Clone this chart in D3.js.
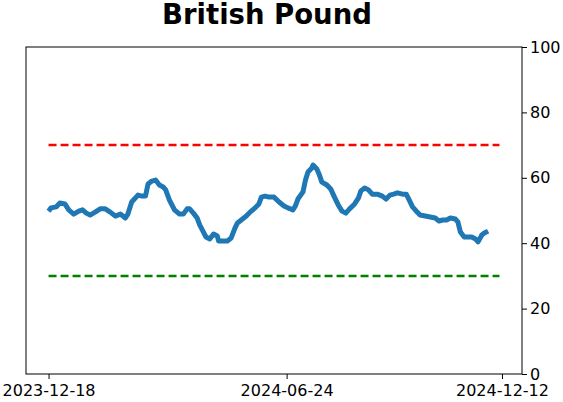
<!DOCTYPE html>
<html><head><meta charset="utf-8">
<script src="https://cdn.jsdelivr.net/npm/d3@7"></script>
<style>body{margin:0;background:#fff}svg{display:block}text{font-family:"DejaVu Sans",sans-serif}</style>
</head><body>
<svg id="c" width="563" height="402"></svg>
<script>
const title = "British Pound";
const dates = ["2023-12-18","2023-12-20","2023-12-24","2023-12-27","2023-12-31","2024-01-03","2024-01-07","2024-01-11","2024-01-14","2024-01-17","2024-01-20","2024-01-24","2024-01-28","2024-02-01","2024-02-05","2024-02-09","2024-02-13","2024-02-17","2024-02-19","2024-02-22","2024-02-27","2024-03-01","2024-03-04","2024-03-06","2024-03-09","2024-03-12","2024-03-15","2024-03-18","2024-03-20","2024-03-23","2024-03-27","2024-03-31","2024-04-03","2024-04-06","2024-04-08","2024-04-11","2024-04-14","2024-04-16","2024-04-19","2024-04-21","2024-04-24","2024-04-27","2024-04-30","2024-05-01","2024-05-05","2024-05-08","2024-05-11","2024-05-14","2024-05-16","2024-05-19","2024-05-23","2024-05-26","2024-05-30","2024-06-02","2024-06-04","2024-06-07","2024-06-10","2024-06-14","2024-06-18","2024-06-22","2024-06-25","2024-06-29","2024-07-01","2024-07-03","2024-07-07","2024-07-09","2024-07-11","2024-07-14","2024-07-15","2024-07-18","2024-07-20","2024-07-22","2024-07-26","2024-07-29","2024-08-01","2024-08-04","2024-08-07","2024-08-10","2024-08-13","2024-08-17","2024-08-20","2024-08-22","2024-08-25","2024-08-28","2024-08-31","2024-09-04","2024-09-08","2024-09-11","2024-09-14","2024-09-17","2024-09-20","2024-09-24","2024-09-27","2024-09-29","2024-10-02","2024-10-05","2024-10-08","2024-10-12","2024-10-16","2024-10-20","2024-10-23","2024-10-26","2024-10-29","2024-11-01","2024-11-05","2024-11-07","2024-11-09","2024-11-12","2024-11-15","2024-11-18","2024-11-21","2024-11-23","2024-11-26","2024-11-28","2024-12-01"];
const values = [49.8,50.8,51.1,52.3,52.0,50.2,48.9,49.8,50.2,49.2,48.6,49.5,50.5,50.5,49.5,48.3,48.9,47.7,48.9,52.6,54.7,54.4,54.4,58.1,59.0,59.3,57.8,57.2,56.3,53.2,50.2,48.9,48.9,50.5,50.5,49.2,47.7,45.6,43.4,41.9,41.3,42.8,42.2,40.7,40.7,40.7,41.6,44.6,46.2,47.1,48.3,49.5,50.8,52.0,54.1,54.4,54.1,54.1,52.6,51.4,50.8,50.2,51.4,53.5,55.7,59.3,61.8,63.0,63.9,62.7,60.9,58.7,57.8,56.6,54.1,51.7,49.8,49.2,50.5,52.0,53.8,56.0,56.9,56.3,55.0,55.0,54.4,53.5,54.7,55.0,55.4,55.0,55.0,53.5,51.1,49.8,48.6,48.3,48.0,47.7,46.8,47.1,47.1,47.7,47.4,46.5,43.4,41.9,41.9,41.9,41.3,40.4,42.5,43.1,43.7];
const refStart = "2023-12-18", refEnd = "2024-12-10";
const upperLevel = 70, lowerLevel = 30;
const xTickLabels = ["2023-12-18","2024-06-24","2024-12-12"];
const yTicks = [0,20,40,60,80,100];

const parse = d3.timeParse("%Y-%m-%d");
const fmt = d3.timeFormat("%Y-%m-%d");
const data = dates.map((d,i)=>({date:parse(d), v:values[i]}));
const m = {left:26, right:522, top:47, bottom:374};
const t0 = parse(refStart), t1 = parse(refEnd);
const span = t1 - t0;
const x = d3.scaleTime().domain([new Date(+t0 - span*0.05), new Date(+t1 + span*0.05)]).range([m.left, m.right]);
const y = d3.scaleLinear().domain([0,100]).range([m.bottom, m.top]);
const svg = d3.select("#c");

svg.append("text").attr("x", 267).attr("y", 24).attr("text-anchor","middle")
  .attr("font-size", 27.5).attr("font-weight","bold").text(title);

svg.append("line").attr("x1", x(t0)).attr("x2", x(t1)).attr("y1", y(upperLevel)).attr("y2", y(upperLevel))
  .attr("stroke","#ff0000").attr("stroke-width",2.5).attr("stroke-dasharray","8,4");
svg.append("line").attr("x1", x(t0)).attr("x2", x(t1)).attr("y1", y(lowerLevel)).attr("y2", y(lowerLevel))
  .attr("stroke","#008000").attr("stroke-width",2.5).attr("stroke-dasharray","8,4");

svg.append("path").datum(data).attr("fill","none").attr("stroke","#1f77b4").attr("stroke-width",5)
  .attr("stroke-linejoin","round").attr("stroke-linecap","butt")
  .attr("d", d3.line().x(d=>x(d.date)).y(d=>y(d.v)));

const xa = svg.append("g").attr("transform",`translate(0,${m.bottom})`)
  .call(d3.axisBottom(x).tickValues(xTickLabels.map(parse)).tickFormat(fmt).tickSize(5).tickPadding(6));
const ya = svg.append("g").attr("transform",`translate(${m.right},0)`)
  .call(d3.axisRight(y).tickValues(yTicks).tickSize(5).tickPadding(3));
[xa, ya].forEach(a=>{
  a.select(".domain").remove();
  a.selectAll("text").attr("font-size",16).attr("fill","#000").attr("font-family","DejaVu Sans");
  a.selectAll("line").attr("stroke","#000");
});
svg.append("rect").attr("x",m.left).attr("y",m.top).attr("width",m.right-m.left).attr("height",m.bottom-m.top)
  .attr("fill","none").attr("stroke","#000").attr("stroke-width",1);
</script>
</body></html>
